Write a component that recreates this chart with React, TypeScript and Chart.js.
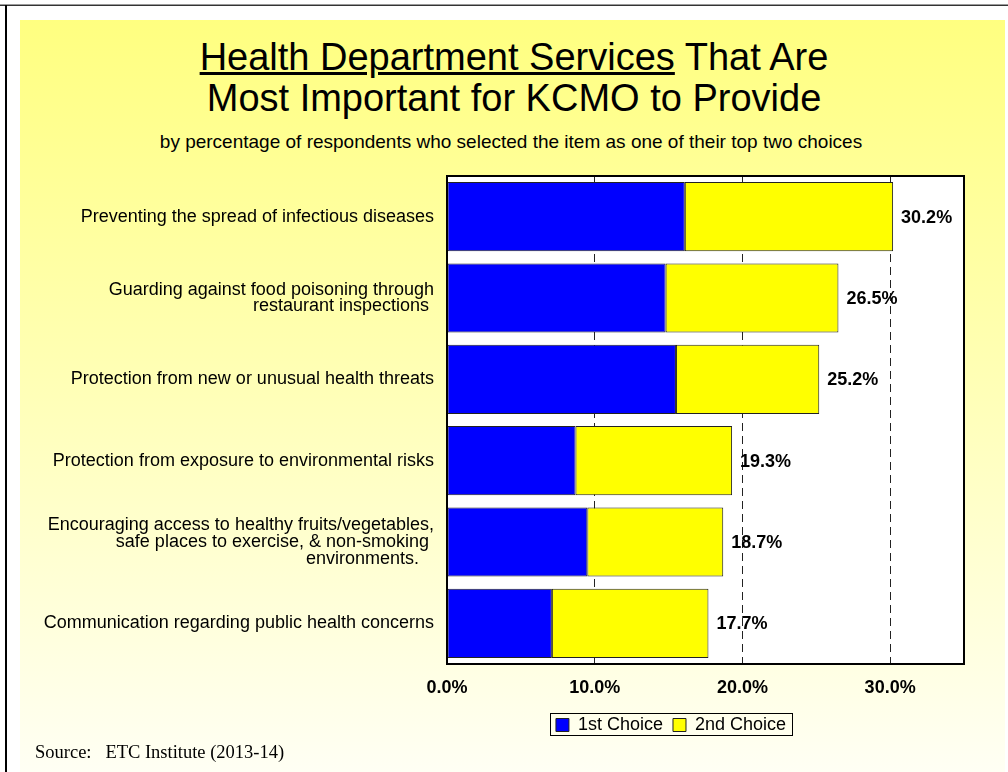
import React, { useEffect, useRef } from "react";
import { Chart, registerables } from "chart.js";

Chart.register(...registerables);

// ---- data ----
const categories: string[][] = [
  ["Preventing the spread of infectious diseases"],
  ["Guarding against food poisoning through", "restaurant inspections "],
  ["Protection from new or unusual health threats"],
  ["Protection from exposure to environmental risks"],
  [
    "Encouraging access to healthy fruits/vegetables,",
    "safe places to exercise, & non-smoking ",
    "environments.   ",
  ],
  ["Communication regarding public health concerns"],
];
const firstChoice = [16.1, 14.8, 15.5, 8.7, 9.5, 7.1];
const secondChoice = [14.1, 11.7, 9.7, 10.6, 9.2, 10.6];
const xTickValues = [0, 10, 20, 30];
const seriesNames = ["1st Choice", "2nd Choice"];

const SANS = "'Liberation Sans', Arial, Helvetica, sans-serif";
const PAGE_X = 20; // canvas left on page
const LEGEND_CENTER_PAGE_X = 671;

const chartPlugin = {
  id: "customDecor",
  afterLayout(chart: any) {
    const lg = chart.legend;
    if (!lg) return;
    const want = LEGEND_CENTER_PAGE_X - PAGE_X;
    const cur = (lg.left + lg.right) / 2;
    const dx = want - cur;
    lg.left += dx;
    lg.right += dx;
  },
  beforeDraw(chart: any) {
    const { ctx, chartArea: a } = chart;
    ctx.save();
    ctx.fillStyle = "#ffffff";
    ctx.fillRect(a.left, a.top, a.right - a.left, a.bottom - a.top);
    ctx.restore();
  },
  afterDatasetsDraw(chart: any) {
    const { ctx, chartArea: a } = chart;
    ctx.save();
    ctx.strokeStyle = "#000";
    ctx.lineWidth = 2;
    ctx.strokeRect(a.left, a.top, a.right - a.left, a.bottom - a.top);
    // totals labels
    const meta = chart.getDatasetMeta(1);
    ctx.fillStyle = "#000";
    ctx.font = `bold 18px ${SANS}`;
    ctx.textAlign = "left";
    ctx.textBaseline = "middle";
    meta.data.forEach((el: any, i: number) => {
      const total = firstChoice[i] + secondChoice[i];
      ctx.fillText(total.toFixed(1) + "%", el.x + 8, el.y + 1);
    });
    ctx.restore();
  },
  afterDraw(chart: any) {
    const lg = chart.legend;
    if (!lg || !lg.legendHitBoxes || !lg.legendHitBoxes.length) return;
    const hb = lg.legendHitBoxes;
    const first = hb[0];
    const last = hb[hb.length - 1];
    const { ctx } = chart;
    ctx.save();
    ctx.strokeStyle = "#000";
    ctx.lineWidth = 1;
    const l = Math.round(first.left - 6) + 0.5;
    const r = Math.round(last.left + last.width + 6) + 0.5;
    const t = Math.round(first.top - 3) + 0.5;
    const b = Math.round(first.top + first.height + 1) + 0.5;
    ctx.strokeRect(l, t, r - l, b - t);
    ctx.restore();
  },
};

export default function App() {
  const ref = useRef<HTMLCanvasElement>(null);

  useEffect(() => {
    if (!ref.current) return;
    Chart.defaults.font.family = SANS;
    const chart = new Chart(ref.current, {
      type: "bar",
      data: {
        labels: categories,
        datasets: [
          {
            label: seriesNames[0],
            data: firstChoice,
            backgroundColor: "#0000ff",
            borderColor: "#222222",
            borderWidth: 1,
            borderSkipped: false,
          },
          {
            label: seriesNames[1],
            data: secondChoice,
            backgroundColor: "#ffff00",
            borderColor: "#222222",
            borderWidth: 1,
            borderSkipped: false,
          },
        ],
      },
      options: {
        indexAxis: "y",
        responsive: false,
        animation: false,
        events: [],
        datasets: {
          bar: { categoryPercentage: 1, barPercentage: 0.85 },
        },
        layout: { padding: { top: 11, right: 41, left: 0, bottom: 1 } },
        scales: {
          x: {
            stacked: true,
            min: 0,
            max: 35,
            afterBuildTicks: (scale: any) => {
              scale.ticks = xTickValues.map((v) => ({ value: v }));
            },
            afterFit: (scale: any) => {
              scale.height = 42;
            },
            grid: {
              display: true,
              drawTicks: false,
              color: "#222222",
              lineWidth: 1,
            },
            border: { display: false, dash: [8, 5] },
            ticks: {
              padding: 13,
              color: "#000",
              font: { size: 18, weight: "bold", family: SANS },
              callback: (v: any) => Number(v).toFixed(1) + "%",
            },
          },
          y: {
            stacked: true,
            afterFit: (scale: any) => {
              scale.width = 427;
              scale.paddingTop = 0;
              scale.paddingBottom = 0;
            },
            grid: { display: false, drawTicks: false },
            border: { display: false },
            ticks: {
              padding: 13,
              color: "#000",
              font: { size: 18, family: SANS, lineHeight: 0.92 },
            },
          },
        },
        plugins: {
          legend: {
            display: true,
            position: "bottom",
            labels: {
              boxWidth: 13,
              boxHeight: 13,
              padding: 10,
              color: "#000",
              font: { size: 18, family: SANS },
            },
          },
          title: { display: false },
          tooltip: { enabled: false },
        },
      },
      plugins: [chartPlugin],
    } as any);
    return () => chart.destroy();
  }, []);

  return (
    <div
      style={{
        position: "fixed",
        left: 0,
        top: 0,
        width: 1008,
        height: 772,
        background: "#ffffff",
        overflow: "hidden",
      }}
    >
      <div style={{ position: "absolute", left: 0, top: 4, width: 1008, height: 1, background: "#9a9a9a" }} />
      <div style={{ position: "absolute", left: 0, top: 5, width: 1008, height: 1, background: "#333333" }} />
      <div style={{ position: "absolute", left: 5, top: 5, width: 2, height: 767, background: "#000000" }} />
      <div
        style={{
          position: "absolute",
          left: 20,
          top: 20,
          width: 985,
          height: 752,
          background: "linear-gradient(to bottom, #ffff80 0%, #ffffb8 50%, #fffff4 100%)",
        }}
      />
      <div
        style={{
          position: "absolute",
          left: 20,
          top: 37,
          width: 988,
          textAlign: "center",
          fontFamily: SANS,
          fontSize: 38,
          lineHeight: "41px",
          color: "#000",
        }}
      >
        <div>
          <span style={{ textDecoration: "underline" }}>Health Department Services</span> That Are
        </div>
        <div>Most Important for KCMO to Provide</div>
      </div>
      <div
        style={{
          position: "absolute",
          left: 20,
          top: 131,
          width: 982,
          textAlign: "center",
          fontFamily: SANS,
          fontSize: 19,
          lineHeight: "22px",
          color: "#000",
        }}
      >
        by percentage of respondents who selected the item as one of their top two choices
      </div>
      <canvas
        ref={ref}
        width={985}
        height={580}
        style={{ position: "absolute", left: PAGE_X, top: 165, width: 985, height: 580 }}
      />
      <div
        style={{
          position: "absolute",
          left: 35,
          top: 742,
          fontFamily: "'Liberation Serif', 'Times New Roman', serif",
          fontSize: 18.5,
          lineHeight: "21px",
          whiteSpace: "pre",
          color: "#000",
        }}
      >
        {"Source:   ETC Institute (2013-14)"}
      </div>
    </div>
  );
}
